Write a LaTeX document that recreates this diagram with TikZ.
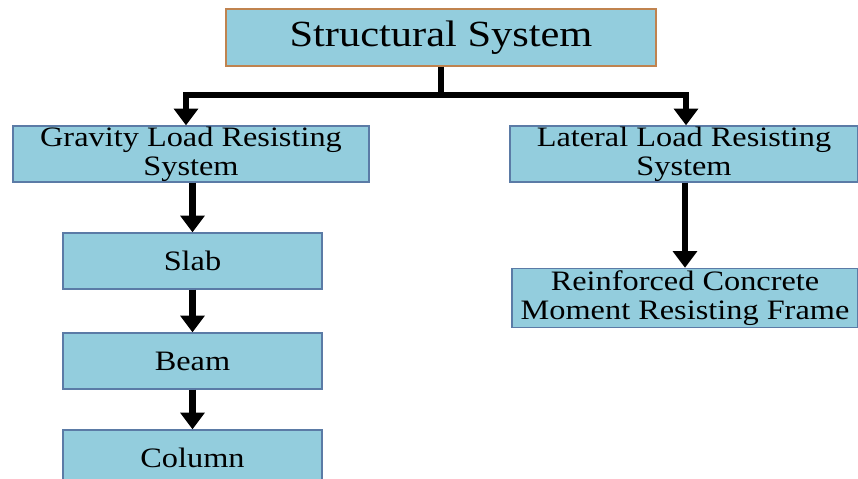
\documentclass[tikz,border=0pt]{standalone}
\usepackage{fontspec}
\setmainfont{Liberation Serif}[FakeStretch=1.15]
\usetikzlibrary{arrows.meta}
\definecolor{boxfill}{HTML}{93CDDD}
\definecolor{boxline}{HTML}{5B7BA6}
\definecolor{topline}{HTML}{C0834F}
\tikzset{
	sysbox/.style={rectangle,draw=boxline,fill=boxfill,line width=0.8pt,align=center,font=\fontsize{16}{16.5}\selectfont,inner sep=0pt},
	flow/.style={line width=3.8pt,-{Triangle[width=13.5pt,length=9.5pt]}},
	bar/.style={line width=3.6pt}
}
\begin{document}
\begin{tikzpicture}[x=0.02cm,y=-0.02cm]
			\useasboundingbox (0,0) rectangle (858,479);
			\begin{scope}[every node/.style={sysbox}]
				\node[draw=topline,minimum width=8.6cm,minimum height=1.14cm,font=\fontsize{21}{22}\selectfont] (top) at (441,37.5) {Structural System};
				\node[minimum width=7.12cm,minimum height=1.12cm] (grav) at (191,154) {Gravity Load Resisting\\System};
				\node[minimum width=6.96cm,minimum height=1.12cm] (lat) at (684,154) {Lateral Load Resisting\\System};
				\node[minimum width=5.18cm,minimum height=1.12cm] (slab) at (192.5,261) {Slab};
				\node[minimum width=5.18cm,minimum height=1.12cm] (beam) at (192.5,361) {Beam};
				\node[minimum width=5.18cm,minimum height=1.12cm] (col) at (192.5,458) {Column};
				\node[minimum width=6.92cm,minimum height=1.18cm] (rcf) at (685,298) {Reinforced Concrete\\Moment Resisting Frame};
			\end{scope}
			
			\coordinate (j) at (441,95);
			\coordinate (jl) at (186,95);
			\coordinate (jr) at (686,95);
			\begin{scope}[every edge/.style={draw=black,flow}]
				\draw[bar] (top.south) -- (j);
				\draw[bar,line cap=rect] (jl) -- (jr);
				\path (jl) edge (jl |- grav.north);
				\path (jr) edge (jr |- lat.north);
				\path (grav.south -| slab) edge (slab.north);
				\path (slab) edge (beam);
				\path (beam) edge (col);
				\path (lat.south -| rcf) edge (rcf.north);
			\end{scope}
		\end{tikzpicture}
\end{document}
